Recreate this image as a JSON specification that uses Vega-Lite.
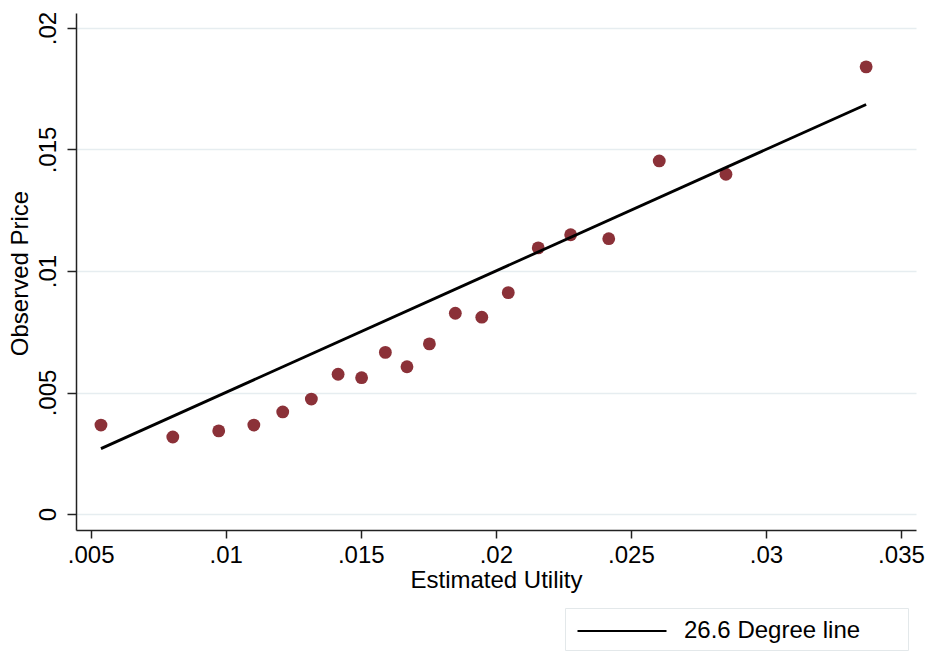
{
  "$schema": "https://vega.github.io/schema/vega-lite/v6.json",
  "width": 840,
  "height": 517,
  "autosize": {"type": "none"},
  "padding": {"left": 76, "top": 13, "right": 12, "bottom": 122},
  "background": "white",
  "config": {
    "view": {"stroke": null},
    "font": "Liberation Sans",
    "axis": {
      "labelFont": "Liberation Sans",
      "titleFont": "Liberation Sans",
      "labelColor": "#000000",
      "titleColor": "#000000",
      "titleFontWeight": "normal",
      "domainColor": "#222222",
      "domainWidth": 1.5,
      "tickColor": "#222222",
      "tickWidth": 1.5
    }
  },
  "datasets": {
    "bins": [
      {"utility": 0.00538, "price": 0.00366},
      {"utility": 0.00804, "price": 0.00317},
      {"utility": 0.00974, "price": 0.00342},
      {"utility": 0.01104, "price": 0.00366},
      {"utility": 0.01211, "price": 0.00420},
      {"utility": 0.01317, "price": 0.00473},
      {"utility": 0.01416, "price": 0.00575},
      {"utility": 0.01503, "price": 0.00561},
      {"utility": 0.01591, "price": 0.00665},
      {"utility": 0.01671, "price": 0.00606},
      {"utility": 0.01754, "price": 0.00700},
      {"utility": 0.01850, "price": 0.00826},
      {"utility": 0.01948, "price": 0.00810},
      {"utility": 0.02046, "price": 0.00911},
      {"utility": 0.02157, "price": 0.01095},
      {"utility": 0.02277, "price": 0.01149},
      {"utility": 0.02418, "price": 0.01133},
      {"utility": 0.02605, "price": 0.01453},
      {"utility": 0.02852, "price": 0.01398},
      {"utility": 0.03371, "price": 0.01840}
    ],
    "reference": [
      {"utility": 0.00538, "price": 0.00269},
      {"utility": 0.03371, "price": 0.016855}
    ]
  },
  "layer": [
    {
      "data": {"name": "bins"},
      "mark": {"type": "circle", "size": 165, "opacity": 1, "color": "#8B3138"},
      "encoding": {
        "x": {
          "field": "utility",
          "type": "quantitative",
          "scale": {"domain": [0.004456, 0.035556], "nice": false, "zero": false},
          "axis": {
            "title": "Estimated Utility",
            "values": [0.005, 0.01, 0.015, 0.02, 0.025, 0.03, 0.035],
            "labelExpr": "datum.value == 0 ? '0' : substring(format(datum.value, '.3~f'), 1)",
            "grid": false,
            "tickSize": 8,
            "labelFontSize": 24,
            "labelBaseline": "alphabetic",
            "labelPadding": 24,
            "labelFlush": false,
            "labelOverlap": false,
            "titleFontSize": 24,
            "titleBaseline": "alphabetic",
            "titleX": 420,
            "titleY": 57,
            "titleAnchor": "middle"
          }
        },
        "y": {
          "field": "price",
          "type": "quantitative",
          "scale": {"domain": [-0.000658, 0.020617], "nice": false, "zero": false},
          "axis": {
            "title": "Observed Price",
            "values": [0, 0.005, 0.01, 0.015, 0.02],
            "labelExpr": "datum.value == 0 ? '0' : substring(format(datum.value, '.3~f'), 1)",
            "grid": true,
            "gridColor": "#E6EDF0",
            "gridWidth": 1.5,
            "tickSize": 9,
            "labelFontSize": 24,
            "labelAngle": -90,
            "labelAlign": "center",
            "labelBaseline": "alphabetic",
            "labelPadding": 12,
            "labelFlush": false,
            "labelOverlap": false,
            "titleFontSize": 24,
            "titleAngle": -90,
            "titleAlign": "center",
            "titleBaseline": "alphabetic",
            "titleX": -49,
            "titleY": 260
          }
        }
      }
    },
    {
      "data": {"name": "reference"},
      "mark": {"type": "line", "strokeWidth": 2.8},
      "encoding": {
        "x": {"field": "utility", "type": "quantitative"},
        "y": {"field": "price", "type": "quantitative"},
        "stroke": {
          "datum": "26.6 Degree line",
          "type": "nominal",
          "scale": {"range": ["#000000"]},
          "legend": {
            "orient": "none",
            "legendX": 489,
            "legendY": 595,
            "title": null,
            "strokeColor": "#E3E8EA",
            "fillColor": "#FFFFFF",
            "padding": 7,
            "symbolType": "M-3,0H3",
            "symbolSize": 880,
            "symbolStrokeWidth": 2,
            "symbolOffset": 34,
            "labelFont": "Liberation Sans",
            "labelFontSize": 24,
            "labelColor": "#000000",
            "labelLimit": 0,
            "labelOffset": 46,
            "labelExpr": "datum.label + '\u00a0\u00a0\u00a0\u00a0\u00a0\u00a0\u200b'"
          }
        }
      }
    }
  ]
}
